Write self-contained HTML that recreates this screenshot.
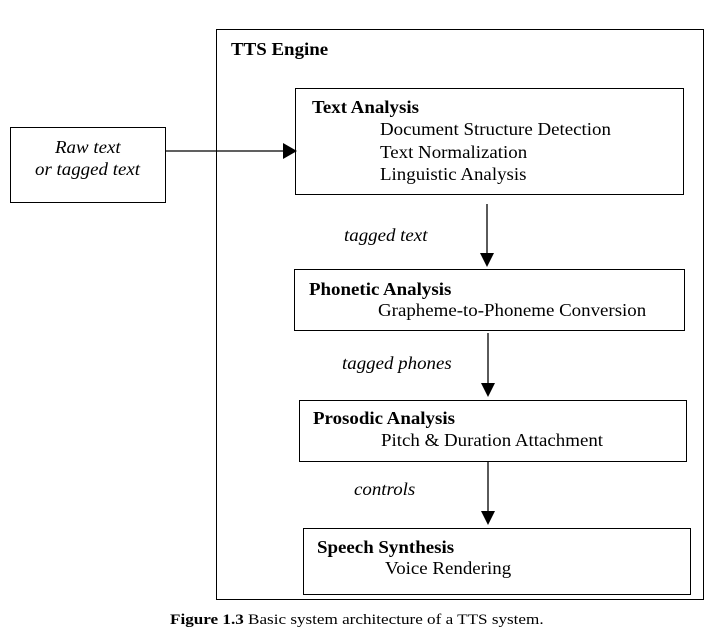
<!DOCTYPE html>
<html><head><style>
body{margin:0;background:#fff;width:712px;height:644px;position:relative;overflow:hidden;font-family:"Liberation Serif",serif;color:#000}
.b{position:absolute;border:1.3px solid #000;box-sizing:border-box}
.t{position:absolute;font-size:17.5px;white-space:nowrap;line-height:1;transform:scaleX(1.08);transform-origin:0 50%}
.bd{font-weight:bold}
.i{font-style:italic}
</style></head><body>
<div class="b" style="left:216px;top:29px;width:488px;height:571px"></div>
<div class="b" style="left:10px;top:127px;width:156px;height:76px"></div>
<div class="b" style="left:295px;top:88px;width:389px;height:107px"></div>
<div class="b" style="left:294px;top:269px;width:391px;height:62px"></div>
<div class="b" style="left:299px;top:400px;width:388px;height:62px"></div>
<div class="b" style="left:303px;top:528px;width:388px;height:67px"></div>
<svg width="712" height="644" style="position:absolute;left:0;top:0">
<g stroke="#000" stroke-width="1.3" fill="#000">
<line x1="166" y1="151" x2="285" y2="151"/><polygon points="283,143 297,151 283,159" stroke="none"/>
<line x1="487" y1="204" x2="487" y2="255"/><polygon points="480,253 494,253 487,267" stroke="none"/>
<line x1="488" y1="333" x2="488" y2="385"/><polygon points="481,383 495,383 488,397" stroke="none"/>
<line x1="488" y1="462" x2="488" y2="513"/><polygon points="481,511 495,511 488,525" stroke="none"/>
</g></svg>
<div class="t bd" style="left:231px;top:41px">TTS Engine</div>
<div class="t i" style="left:55px;top:139px">Raw text</div>
<div class="t i" style="left:35px;top:161px">or tagged text</div>
<div class="t bd" style="left:312px;top:99px">Text Analysis</div>
<div class="t" style="left:380px;top:121px">Document Structure Detection</div>
<div class="t" style="left:380px;top:144px">Text Normalization</div>
<div class="t" style="left:380px;top:166px">Linguistic Analysis</div>
<div class="t i" style="left:344px;top:227px">tagged text</div>
<div class="t bd" style="left:309px;top:281px">Phonetic Analysis</div>
<div class="t" style="left:378px;top:302px">Grapheme-to-Phoneme Conversion</div>
<div class="t i" style="left:342px;top:355px">tagged phones</div>
<div class="t bd" style="left:313px;top:410px">Prosodic Analysis</div>
<div class="t" style="left:381px;top:432px">Pitch &amp; Duration Attachment</div>
<div class="t i" style="left:354px;top:481px">controls</div>
<div class="t bd" style="left:317px;top:539px">Speech Synthesis</div>
<div class="t" style="left:385px;top:560px">Voice Rendering</div>
<div class="t" style="left:170px;top:613px;font-size:15px;transform:scaleX(1.14)"><b>Figure 1.3</b> Basic system architecture of a TTS system.</div>
</body></html>
